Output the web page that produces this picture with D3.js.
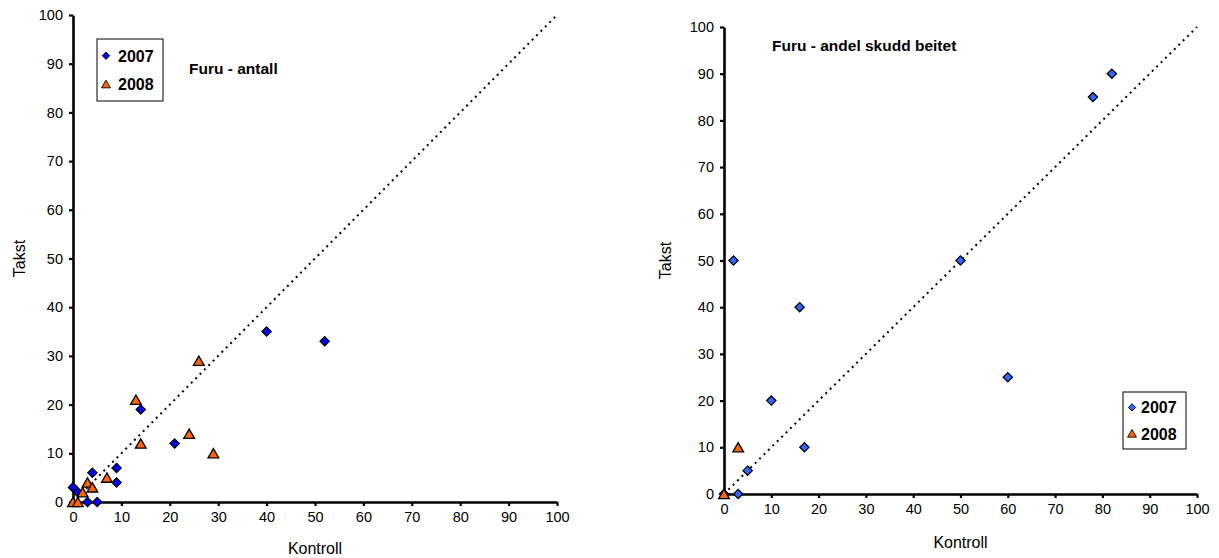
<!DOCTYPE html>
<html>
<head>
<meta charset="utf-8">
<script src="https://cdn.jsdelivr.net/npm/d3@7"></script>
<style>
  html, body { margin: 0; padding: 0; background: #fff; }
  svg { display: block; font-family: "Liberation Sans", Arial, sans-serif; }
</style>
</head>
<body>
<svg id="chart" width="1219" height="558"></svg>
<script>
// Furu - antall (number of pine trees): [kontroll, takst]
const antall2007 = [[0, 3], [1, 2], [3, 0], [5, 0], [4, 6], [9, 7], [9, 4], [14, 19], [21, 12], [40, 35], [52, 33]];
const antall2008 = [[0, 0], [1, 0], [2, 2], [3, 4], [4, 3], [7, 5], [13, 21], [14, 12], [24, 14], [26, 29], [29, 10]];

// Furu - andel skudd beitet (share of browsed shoots, %)
const andel2007 = [[0, 0], [3, 0], [5, 5], [2, 50], [10, 20], [16, 40], [17, 10], [50, 50], [60, 25], [78, 85], [82, 90]];
const andel2008 = [[0, 0], [3, 10]];

const tickValues = [0, 10, 20, 30, 40, 50, 60, 70, 80, 90, 100];
const seriesNames = ["2007", "2008"];
const xTitle = "Kontroll";
const yTitle = "Takst";

const svg = d3.select("#chart");

const orange = "#FF6600";
const fontFamily = "'Liberation Sans', Arial, sans-serif";

function drawPanel(cfg) {
  const x = d3.scaleLinear().domain([0, 100]).range([cfg.left, cfg.right]);
  const y = d3.scaleLinear().domain([0, 100]).range([cfg.bottom, cfg.top]);
  const g = svg.append("g");

  // 1:1 reference line
  g.append("line")
    .attr("x1", x(0)).attr("y1", y(0))
    .attr("x2", x(100)).attr("y2", y(100))
    .attr("stroke", "#000").attr("stroke-width", 2)
    .attr("stroke-dasharray", "2,4.2");

  const xAxis = g.append("g")
    .attr("transform", `translate(0,${cfg.bottom})`)
    .call(d3.axisBottom(x).tickValues(tickValues).tickSize(4).tickPadding(6).tickSizeOuter(0));
  const yAxis = g.append("g")
    .attr("transform", `translate(${cfg.left},0)`)
    .call(d3.axisLeft(y).tickValues(tickValues).tickSize(4).tickPadding(6).tickSizeOuter(0));
  [xAxis, yAxis].forEach(a => {
    a.attr("font-size", 14.5).attr("font-family", fontFamily);
    a.select(".domain").attr("stroke", "#000").attr("stroke-width", 2.6);
    a.selectAll(".tick line").attr("stroke", "#000").attr("stroke-width", 2.2);
    a.selectAll(".tick text").attr("fill", "#000");
  });

  // axis titles
  g.append("text")
    .attr("x", (cfg.left + cfg.right) / 2).attr("y", cfg.xTitleY)
    .attr("text-anchor", "middle").attr("font-size", 16).text(xTitle);
  g.append("text")
    .attr("transform", `translate(${cfg.yTitleX},${(cfg.top + cfg.bottom) / 2}) rotate(-90)`)
    .attr("text-anchor", "middle").attr("font-size", 16).text(yTitle);

  // chart title
  g.append("text")
    .attr("x", cfg.titleX).attr("y", cfg.titleY)
    .attr("font-size", 15.5).attr("font-weight", "bold").text(cfg.title);

  const diamond = d3.symbol().type(d3.symbolDiamond2).size(54);
  const triangle = d3.symbol().type(d3.symbolTriangle).size(50);

  // 2007 drawn first, 2008 on top; triangles centred on their bounding box
  g.append("g").selectAll("path").data(cfg.s2007).join("path")
    .attr("d", diamond)
    .attr("transform", d => `translate(${x(d[0])},${y(d[1])})`)
    .attr("fill", cfg.blue).attr("stroke", "#000").attr("stroke-width", 1.3);
  g.append("g").selectAll("path").data(cfg.s2008).join("path")
    .attr("d", triangle)
    .attr("transform", d => `translate(${x(d[0])},${y(d[1]) + 1.5})`)
    .attr("fill", orange).attr("stroke", "#000").attr("stroke-width", 1.3);

  // legend
  const lg = g.append("g").attr("transform", `translate(${cfg.legend[0]},${cfg.legend[1]})`);
  lg.append("rect").attr("width", cfg.legend[2]).attr("height", cfg.legend[3])
    .attr("fill", "#fff").attr("stroke", "#000").attr("stroke-width", 1);
  const ls = d3.symbol().size(34);
  seriesNames.forEach((name, i) => {
    const cy = cfg.legend[3] * (i === 0 ? 0.27 : 0.73);
    lg.append("path")
      .attr("d", ls.type(i === 0 ? d3.symbolDiamond2 : d3.symbolTriangle)())
      .attr("transform", `translate(9,${cy + (i === 0 ? 0 : 1)})`)
      .attr("fill", i === 0 ? cfg.blue : orange).attr("stroke", "#000").attr("stroke-width", 0.9);
    lg.append("text").attr("x", cfg.legendTextX).attr("y", cy + 6)
      .attr("font-size", 16).attr("font-weight", "bold").text(name);
  });
}

drawPanel({
  left: 73, right: 557, top: 15, bottom: 502,
  s2007: antall2007, s2008: antall2008, blue: "#0000FF",
  title: "Furu - antall", titleX: 189, titleY: 74,
  xTitleY: 554, yTitleX: 25,
  legend: [97, 39, 66, 62], legendTextX: 21
});

drawPanel({
  left: 724, right: 1197, top: 27, bottom: 494,
  s2007: andel2007, s2008: andel2008, blue: "#3366FF",
  title: "Furu - andel skudd beitet", titleX: 772, titleY: 51,
  xTitleY: 548, yTitleX: 671,
  legend: [1123, 392, 63, 57], legendTextX: 18
});
</script>
</body>
</html>
